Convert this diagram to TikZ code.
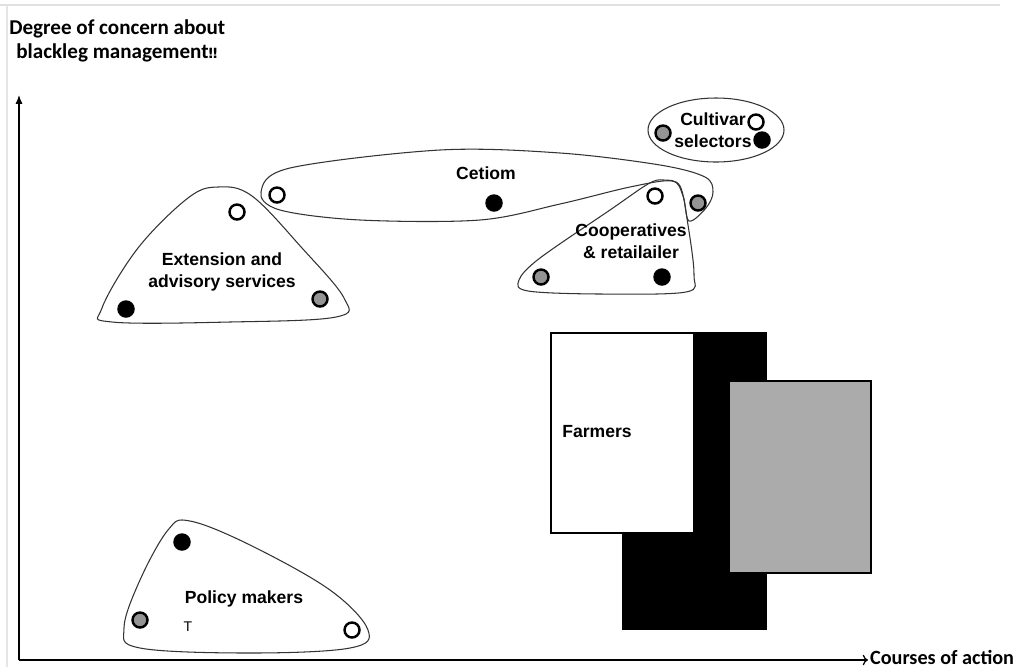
\documentclass[tikz,border=0pt]{standalone}
\usepackage{fontspec}
\newfontfamily\labelfont{Liberation Sans}
\newfontfamily\axisfont{Carlito}
\newfontfamily\symbfont{DejaVu Sans}
\usetikzlibrary{arrows.meta,positioning}
\tikzset{
  dot/.style={circle,draw=black,line width=1.4pt,minimum size=0.3cm,inner sep=0pt},
  dotw/.style={dot,fill=white},
  dotb/.style={dot,fill=black},
  dotg/.style={dot,fill=black!42},
  blob/.style={draw=black!80,line width=0.6pt},
  actor/.style={font=\labelfont\bfseries\fontsize{10}{12.6}\selectfont,align=center,inner sep=0pt},
  axislabel/.style={font=\axisfont\bfseries\fontsize{12}{13.5}\selectfont,inner sep=0pt}
}
\begin{document}
\begin{tikzpicture}[x=0.02cm,y=-0.02cm]
\useasboundingbox[fill=white] (0,0) rectangle (1024,667);
\draw[black!12,line width=0.6pt] (0,5) -- (1000,5);
\draw[black!10,line width=0.6pt] (7,5) -- (7,667);
% axes
\coordinate (origin) at (19,660);
\coordinate (yend) at (19,95);
\coordinate (xend) at (868,660);
\draw[-{Latex[length=5pt,width=4pt]},line width=0.7pt] (origin) -- (yend);
\draw[-{To[length=3pt,width=6pt]},line width=0.7pt] (origin) -- (xend);
\node[axislabel,anchor=west,align=left] (ytitle) at (9,41) {Degree of concern about\\\hspace*{4pt}blackleg management{\symbfont\fontsize{8}{10}\selectfont ‼}};
\node[axislabel,anchor=west,font=\axisfont\bfseries\fontsize{11.5}{13}\selectfont] (xtitle) at ([xshift=1pt,yshift=1.5pt]xend) {Courses of action};
% farmers
\fill[black] (622,332) rectangle (767,630);
\draw[fill=white,line width=1.4pt] (551,333) rectangle (694,533);
\draw[fill=black!33,line width=1.2pt] (729,381) rectangle (871,573);
\node[actor,anchor=west] (farmers) at (562,432) {Farmers};
% groups
\draw[blob] (716,130) ellipse [x radius=68, y radius=32];
\draw[blob] plot[smooth cycle,tension=0.55] coordinates {(261,192) (290,168) (440,150) (560,153) (660,165) (705,177) (713,192) (706,208) (689,221) (683,196) (672,181) (630,187) (560,204) (480,220) (360,220) (280,210)};
\draw[blob] plot[smooth cycle,tension=0.55] coordinates {(663,180) (680,186) (688,225) (694,275) (686,292) (600,294) (528,291) (519,280) (540,258) (610,210) (648,184)};
\draw[blob] plot[smooth cycle,tension=0.6] coordinates {(218,187) (252,196) (302,248) (344,298) (336,317) (230,322) (112,322) (102,308) (138,248) (188,198)};
\draw[blob] plot[smooth cycle,tension=0.6] coordinates {(190,521) (250,545) (330,590) (368,630) (350,648) (250,653) (140,648) (124,628) (140,580) (168,530)};
% cultivar selectors
\node[actor] (cultivar) at (713,130) {Cultivar\\selectors};
\node[dotg] (cs1) at (663,133) {};
\node[dotw] (cs2) at (756,122) {};
\node[dotb] (cs3) at (762,140) {};
% cetiom
\node[actor] (cetiom) at (486,173) {Cetiom};
\node[dotw] (ce1) at (277,195) {};
\node[dotb] (ce2) at (494,203) {};
\node[dotg] (ce3) at (698,203) {};
% cooperatives
\node[actor] (coop) at (631,241) {Cooperatives\\\& retailailer};
\node[dotw] (co1) at (655,196) {};
\node[dotg] (co2) at (541,277) {};
\node[dotb] (co3) at (662,277) {};
% extension
\node[actor] (extension) at (222,272) {Extension and\\advisory services};
\node[dotw] (ex1) at (237,212) {};
\node[dotb] (ex2) at (126,309) {};
\node[dotg] (ex3) at (320,299) {};
% policy makers
\node[actor] (policy) at (244,599) {Policy makers};
\node[font=\labelfont\fontsize{8}{9}\selectfont,inner sep=0pt] (stray) at (188,627) {T};
\node[dotb] (po1) at (182,542) {};
\node[dotg] (po2) at (140,620) {};
\node[dotw] (po3) at (352,630) {};
\end{tikzpicture}
\end{document}
